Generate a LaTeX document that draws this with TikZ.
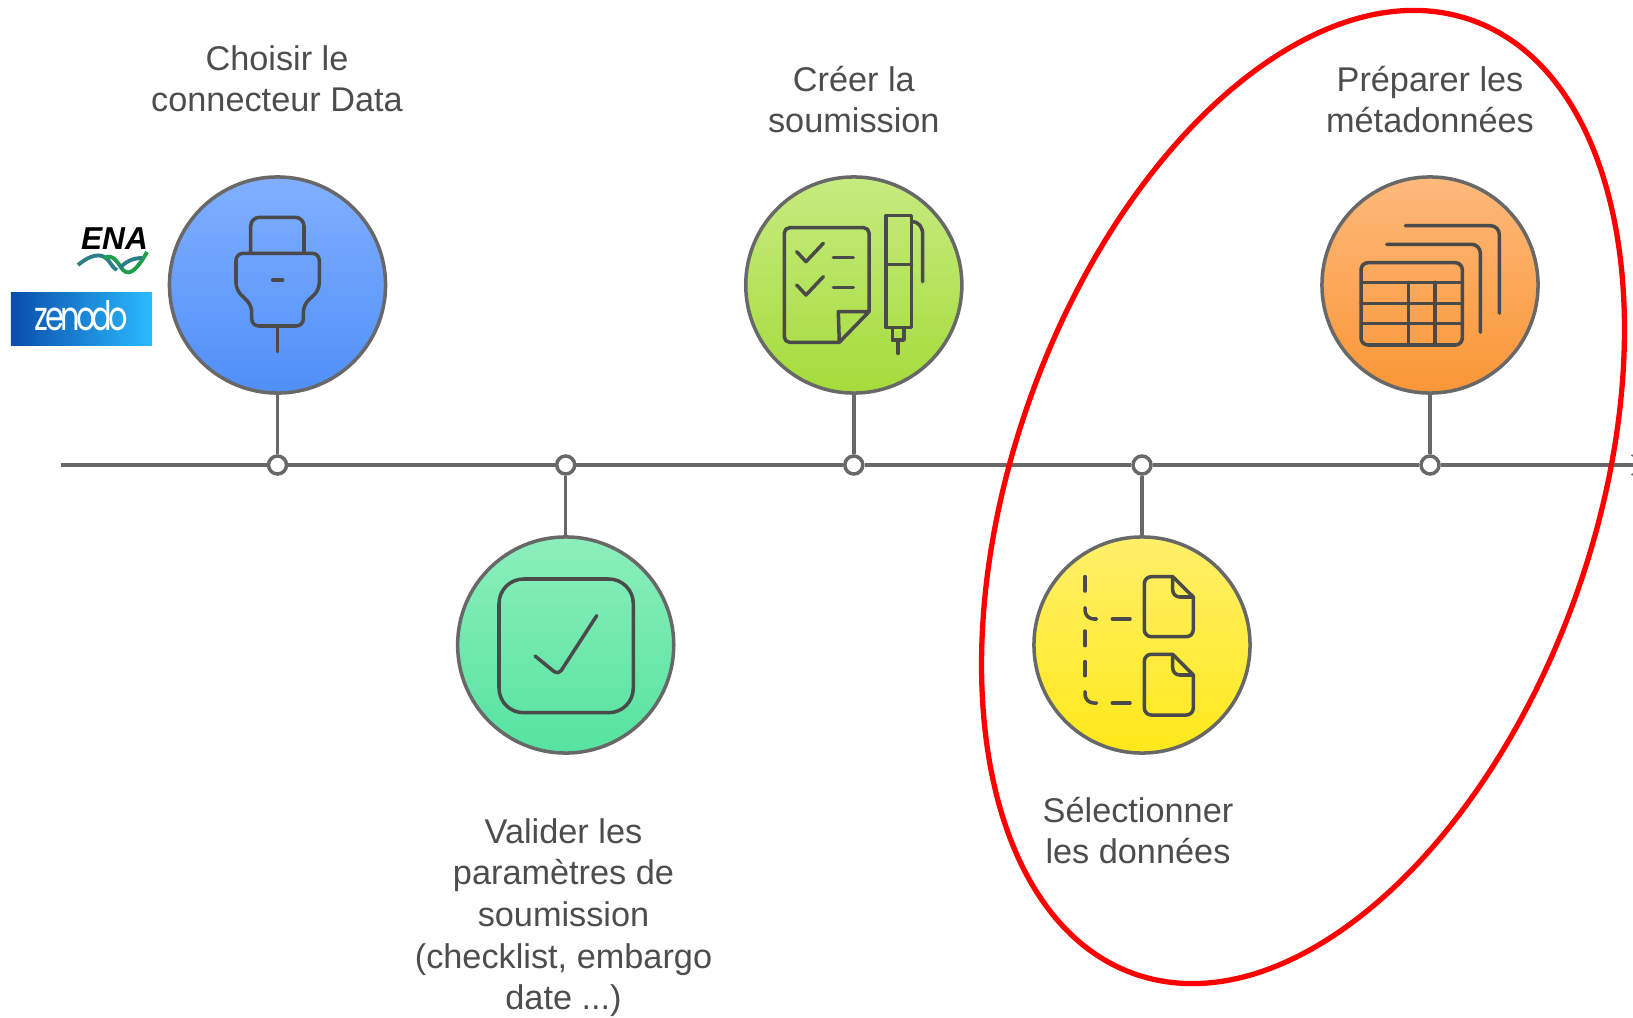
\documentclass[tikz,border=0pt]{standalone}
\usepackage{fontspec}
\setmainfont{Liberation Sans}
\newfontfamily\zenodofont[FakeStretch=0.75,LetterSpace=-9]{Poppins}
\usetikzlibrary{shapes.geometric}
\definecolor{linegray}{HTML}{686868}
\definecolor{icongray}{HTML}{4A4A4A}
\definecolor{textgray}{HTML}{4D4D4D}
\definecolor{helixteal}{HTML}{2A7F8A}
\definecolor{helixgreen}{HTML}{1E9E4A}
\tikzset{
  stepcircle/.style={circle,draw=linegray,line width=1pt,minimum size=2.16cm,inner sep=0pt},
  stepdot/.style={circle,draw=linegray,line width=1pt,fill=white,minimum size=0.18cm,inner sep=0pt},
  steptext/.style={align=center,text=textgray,font=\fontsize{9.75}{11.84}\selectfont,inner sep=0pt},
  connector/.style={draw=linegray,line width=1pt},
  icon/.style={draw=icongray,line width=1pt,line join=round,line cap=round},
}
\begin{document}
\begin{tikzpicture}[x=0.01cm,y=-0.01cm]
  \useasboundingbox (0,0) rectangle (1633,1018);
  \coordinate (start) at (61,465);
  \coordinate (end) at (1633,465);
  \draw
    (277.5,465) node[stepdot] (d1){}
    (565.7,465) node[stepdot] (d2){}
    (853.8,465) node[stepdot] (d3){}
    (1142,465) node[stepdot] (d4){}
    (1430,465) node[stepdot] (d5){};
  \node[stepcircle,top color={rgb,255:red,128;green,175;blue,255},bottom color={rgb,255:red,80;green,143;blue,248}] (c1) at (277.5,285) {};
  \node[stepcircle,top color={rgb,255:red,140;green,238;blue,188},bottom color={rgb,255:red,85;green,227;blue,160}] (c2) at (565.7,645) {};
  \node[stepcircle,top color={rgb,255:red,198;green,235;blue,128},bottom color={rgb,255:red,165;green,219;blue,58}] (c3) at (853.8,285) {};
  \node[stepcircle,top color={rgb,255:red,255;green,240;blue,106},bottom color={rgb,255:red,255;green,232;blue,26}] (c4) at (1142,645) {};
  \node[stepcircle,top color={rgb,255:red,253;green,185;blue,123},bottom color={rgb,255:red,250;green,150;blue,54}] (c5) at (1430,285) {};
  \begin{scope}[connector]
    \draw (start) to (d1);
    \draw (d1) to (d2);
    \draw (d2) to (d3);
    \draw (d3) to (d4);
    \draw (d4) to (d5);
    \draw (d5) to (end);
    \draw (c1) to (d1);
    \draw (c2) to (d2);
    \draw (c3) to (d3);
    \draw (c4) to (d4);
    \draw (c5) to (d5);
  \end{scope}
  \draw[draw=linegray,line width=0.5pt] (1631.5,455) -- (1633,456) (1631.5,475) -- (1633,474);
  \node[steptext] (t1) at (277,78.6) {Choisir le\\connecteur Data};
  \node[steptext] (t2) at (563.5,917.5) {Valider les\\paramètres de\\soumission\\(checklist, embargo\\date ...)};
  \node[steptext] (t3) at (853.8,99.6) {Créer la\\soumission};
  \node[steptext] (t4) at (1138,830.6) {Sélectionner\\les données};
  \node[steptext] (t5) at (1430,99.6) {Préparer les\\métadonnées};
  \draw[icon,rounded corners=2.5pt] (250.7,253.3) -- (250.7,217.3) -- (304,217.3) -- (304,253.3);
  \draw[icon,rounded corners=2pt] (277.5,253.3) -- (319.3,253.3) -- (319.3,290) -- (303.3,305) -- (303.3,326) -- (251.7,326) -- (251.7,305) -- (236,290) -- (236,253.3) -- cycle;
  \draw[icon] (277.5,326) -- (277.5,351.7);
  \draw[icon] (272.7,280) -- (282.7,280);
  \draw[icon,rounded corners=1.5pt] (535,656) -- (558.3,675) -- (596.7,615.7);
  \draw[icon,rounded corners=7pt] (499,579) rectangle (633.3,712.7);
  \draw[icon,rounded corners=1.5pt] (869,311.7) -- (869,227.7) -- (784.3,227.7) -- (784.3,342.3) -- (839.3,342.3);
  \draw[icon] (869,311.7) -- (839.3,342.3) -- (838.3,311.7) -- cycle;
  \draw[icon] (796.7,251.7) -- (806,261.7) -- (823.3,243.3);
  \draw[icon] (796.7,285) -- (806,295) -- (823.3,276.7);
  \draw[icon] (833.3,257.7) -- (853.3,257.7);
  \draw[icon] (833.3,287.7) -- (853.3,287.7);
  \draw[icon] (886,215.5) rectangle (911.7,327.7);
  \draw[icon] (886,264.3) -- (911.7,264.3);
  \draw[icon] (892.3,327.7) rectangle (904,340);
  \draw[icon] (898,340) -- (898,353.3);
  \draw[icon] (911.7,221.7) .. controls (919,221.7) and (922.7,227) .. (922.7,235) -- (922.7,281.7);
  \draw[icon,rounded corners=2pt] (1172.7,576.7) -- (1144.3,576.7) -- (1144.3,636.7) -- (1193.3,636.7) -- (1193.3,597);
  \draw[icon] (1172.7,576.7) -- (1193.3,597);
  \draw[icon,rounded corners=2pt] (1172.7,576.7) -- (1172.7,597) -- (1193.3,597);
  \draw[icon,rounded corners=2pt] (1172.7,654.3) -- (1144.3,654.3) -- (1144.3,715) -- (1193.3,715) -- (1193.3,675);
  \draw[icon] (1172.7,654.3) -- (1193.3,675);
  \draw[icon,rounded corners=2pt] (1172.7,654.3) -- (1172.7,675) -- (1193.3,675);
  \draw[icon] (1085,576.7) -- (1085,591);
  \draw[icon,rounded corners=2.5pt] (1085,607.7) -- (1085,619) -- (1096.7,619);
  \draw[icon] (1112.3,619) -- (1130,619);
  \draw[icon] (1085,631) -- (1085,645.7);
  \draw[icon] (1085,661.7) -- (1085,675.7);
  \draw[icon,rounded corners=2.5pt] (1085,691.7) -- (1085,703) -- (1096.7,703);
  \draw[icon] (1112.3,703) -- (1130,703);
  \draw[icon,rounded corners=2pt] (1361,262.7) rectangle (1462.3,345);
  \draw[icon] (1361,282.3) -- (1462.3,282.3);
  \draw[icon] (1361,303.3) -- (1462.3,303.3);
  \draw[icon] (1361,323.3) -- (1462.3,323.3);
  \draw[icon] (1408.3,282.3) -- (1408.3,345);
  \draw[icon] (1435,282.3) -- (1435,345);
  \draw[icon,rounded corners=2.5pt] (1386.7,244.3) -- (1480.3,244.3) -- (1480.3,332.3);
  \draw[icon,rounded corners=2.5pt] (1405.3,225.7) -- (1499.3,225.7) -- (1499.3,313.3);
  \node[text=black,inner sep=0pt,font=\fontsize{9}{10}\selectfont\bfseries\itshape] (ena) at (114.5,239) {ENA};
  \draw[helixteal,line width=1.1pt] (78,265) .. controls (90,255) and (101,252) .. (108,260) .. controls (112,265) and (113,268) .. (117,270);
  \draw[helixgreen,line width=1.1pt] (104,258) .. controls (114,253) and (118,264) .. (123,270) .. controls (130,277) and (138,268) .. (147,252);
  \draw[helixteal,line width=1.1pt] (120,268) .. controls (126,261) and (134,258) .. (142,258);
  \node[inner sep=0pt,minimum width=1.41cm,minimum height=0.52cm,left color={rgb,255:red,10;green,77;blue,170},right color={rgb,255:red,43;green,187;blue,255}] (zenodo) at (81.5,319) {};
  \node[text=white,inner sep=0pt,font=\zenodofont\fontsize{11.5}{12}\selectfont] (zenodotext) at (81.5,316) {zenodo};
  \node[ellipse,draw=red,line width=1.5pt,rotate=70.5,minimum width=10.11cm,minimum height=5.8cm,inner sep=0pt] (zone) at (1303,497) {};
\end{tikzpicture}
\end{document}
